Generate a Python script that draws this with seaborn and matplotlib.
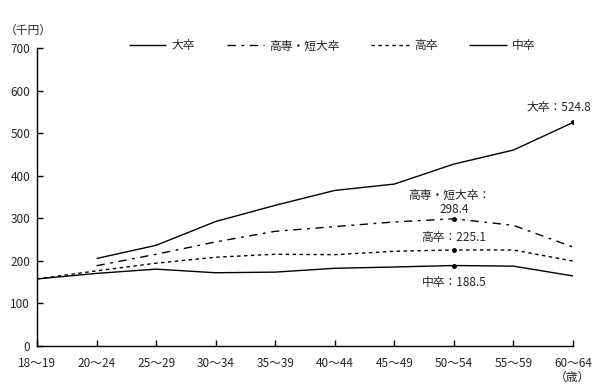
import matplotlib
matplotlib.use("Agg")
import matplotlib.pyplot as plt
import seaborn as sns
import pandas as pd
import numpy as np

categories = ["18～19", "20～24", "25～29", "30～34", "35～39", "40～44",
              "45～49", "50～54", "55～59", "60～64"]
daisotsu = [np.nan, 205, 236, 292, 330, 365, 380, 427, 460, 524.8]
kosen = [np.nan, 188, 215, 244, 269, 280, 291, 298.4, 283, 232]
kosotsu = [157, 176, 194, 208, 215, 214, 222, 225.1, 225, 199]
chusotsu = [157, 170, 180, 171.5, 173, 182, 185, 188.5, 187, 164]
series_names = ["大卒", "高専・短大卒", "高卒", "中卒"]
yticks = [0, 100, 200, 300, 400, 500, 600, 700]

sns.set_theme(style="white")
plt.rcParams['font.family'] = ['Noto Sans CJK JP', 'DejaVu Sans']

df = pd.DataFrame({"age": categories, "大卒": daisotsu, "高専・短大卒": kosen,
                   "高卒": kosotsu, "中卒": chusotsu})
df["x"] = np.arange(len(categories))
long = df.melt(id_vars=["age", "x"], value_vars=series_names,
               var_name="学歴", value_name="val").dropna()

fig = plt.figure(figsize=(5.99, 3.90), dpi=100)
ax = fig.add_axes([0.0618, 0.1136, 0.8948, 0.7634])

styles = {"大卒": (0, ()), "高専・短大卒": (0, (6, 4, 2, 4)),
          "高卒": (0, (2.5, 2.5)), "中卒": (0, ())}
for name in series_names:
    sub = long[long["学歴"] == name]
    sns.lineplot(data=sub, x="x", y="val", ax=ax, color="black", lw=1.0,
                 linestyle=styles[name], label=name, legend=False)

# markers
idx50 = categories.index("50～54")
idx60 = categories.index("60～64")
ax.plot([idx60], [daisotsu[idx60]], "o", color="black", ms=2.5)
for vals in (kosen, kosotsu, chusotsu):
    ax.plot([idx50], [vals[idx50]], "o", color="black", ms=2.5)

fs = 8.5
ax.text(idx60 + 0.31, daisotsu[idx60] + 35, f"大卒：{daisotsu[idx60]}", ha="right", va="center", fontsize=fs, clip_on=False)
ax.text(idx50 - 0.07, kosen[idx50] + 55, "高専・短大卒：", ha="center", va="center", fontsize=fs)
ax.text(idx50, kosen[idx50] + 22, f"{kosen[idx50]}", ha="center", va="center", fontsize=fs)
ax.text(idx50, kosotsu[idx50] + 30, f"高卒：{kosotsu[idx50]}", ha="center", va="center", fontsize=fs)
ax.text(idx50, chusotsu[idx50] - 40, f"中卒：{chusotsu[idx50]}", ha="center", va="center", fontsize=fs)

ax.set_xlim(0, len(categories) - 1)
ax.set_ylim(0, 700)
ax.set_xticks(np.arange(len(categories)))
ax.set_xticklabels(categories, fontsize=fs)
ax.set_yticks(yticks)
ax.set_yticklabels([str(t) for t in yticks], fontsize=fs)
ax.set_xlabel("")
ax.set_ylabel("")
for s in ["top", "right"]:
    ax.spines[s].set_visible(False)
for s in ["left", "bottom"]:
    ax.spines[s].set_color("black")
    ax.spines[s].set_linewidth(1.0)
ax.tick_params(axis="both", direction="in", length=4, width=1, color="black",
               left=True, bottom=True, pad=5)
ax.tick_params(axis="x", pad=8)

fig.text(5 / 599, 1 - 30 / 390, "（千円）", fontsize=fs, ha="left", va="center")
fig.text(572 / 599, 1 - 377 / 390, "（歳）", fontsize=fs, ha="center", va="center")

handles, labels = ax.get_legend_handles_labels()
ax.legend(handles, labels, loc="center", bbox_to_anchor=(332 / 599, 1 - 46 / 390),
          bbox_transform=fig.transFigure, ncol=4, frameon=False, fontsize=fs,
          handlelength=3.2, columnspacing=2.7, handletextpad=0.4)

fig.savefig("out.png", dpi=100)
